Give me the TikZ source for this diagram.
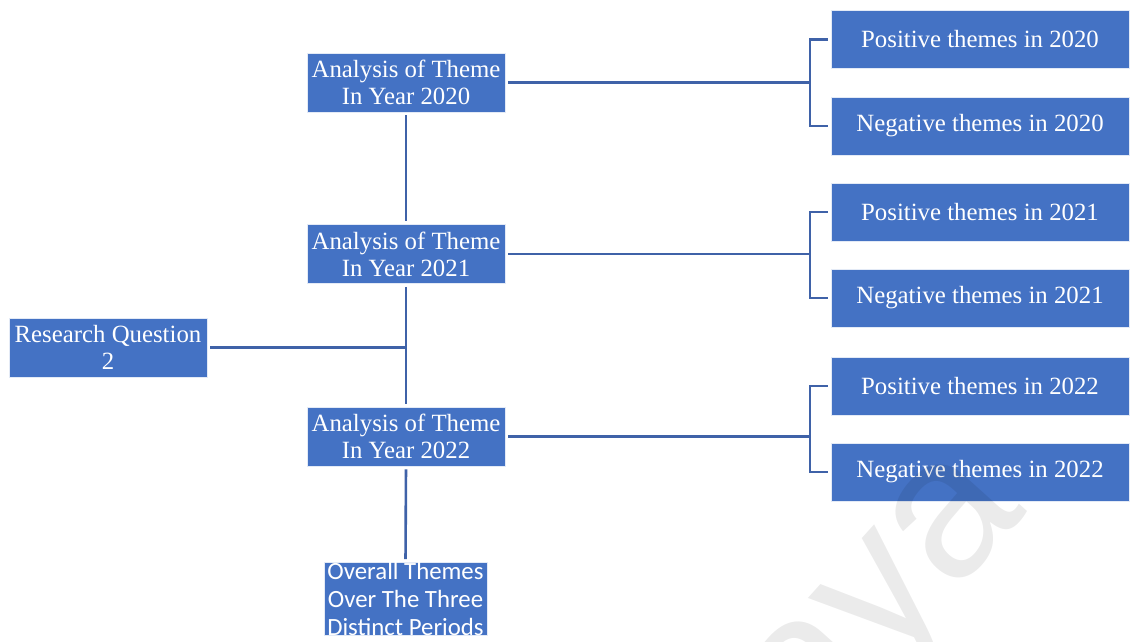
\documentclass[tikz,border=0pt]{standalone}
\usepackage{fontspec}
\setmainfont{Liberation Serif}
\newfontfamily\calibrifont{Carlito}
\newfontfamily\wmfont{Liberation Sans}
\definecolor{boxblue}{HTML}{4472C4}
\definecolor{linkblue}{HTML}{3F62A8}
\begin{document}
\begin{tikzpicture}[x=1pt,y=-1pt,
  box/.style={fill=boxblue, draw=white!85!boxblue, line width=0.8pt, text=white,
    inner sep=0pt, align=center, font=\fontsize{24.8}{27}\selectfont},
  leftbox/.style={box, minimum width=198, minimum height=59},
  rightbox/.style={box, minimum width=298, minimum height=58},
  conn/.style={draw=linkblue, line width=2.6pt, shorten <=3pt, shorten >=3pt}]
\clip (0,0) rectangle (1130,641);
\fill[white] (0,0) rectangle (1130,641);

% left column
\node[leftbox] (a20) at (406,82.5) {Analysis of Theme\\In Year 2020};
\node[leftbox] (a21) at (406,254) {Analysis of Theme\\In Year 2021};
\node[leftbox] (a22) at (406,436.5) {Analysis of Theme\\In Year 2022};
\node[leftbox] (rq) at (108,347.5) {Research Question\\2};
\node[box, anchor=north, minimum width=163, font=\calibrifont\fontsize{24.8}{28}\selectfont]
  (ov) at (405.5,562) {Overall Themes\\Over The Three\\Distinct Periods};

% right column
\node[rightbox] (p20) at (980,39.5) {Positive themes in 2020};
\node[rightbox] (n20) at (980,126) {Negative themes in 2020};
\node[rightbox] (p21) at (980,212) {Positive themes in 2021};
\node[rightbox] (n21) at (980,298) {Negative themes in 2021};
\node[rightbox] (p22) at (980,386) {Positive themes in 2022};
\node[rightbox] (n22) at (980,472) {Negative themes in 2022};

% bracket points
\coordinate (k20) at (810,82.5);
\coordinate (k21) at (810,254);
\coordinate (k22) at (810,436.5);
\coordinate (t) at (406,347.5);

% trunk
\draw[conn] (a20.south) -- (a21.north);
\draw[conn] (a21.south) -- (a22.north);
\draw[conn] (a22.south) -- (ov.north);
\draw[conn, shorten >=0pt] (rq.east) -- (t);

% branches
\draw[conn, shorten >=0pt] (a20.east) -- (k20);
\draw[conn] (p20.west) -| (k20) |- (n20.west);
\draw[conn, shorten >=0pt] (a21.east) -- (k21);
\draw[conn] (p21.west) -| (k21) |- (n21.west);
\draw[conn, shorten >=0pt] (a22.east) -- (k22);
\draw[conn] (p22.west) -| (k22) |- (n22.west);

% watermark
\node[text=black, opacity=0.08, rotate=48, font=\wmfont\fontsize{200}{200}\selectfont]
  (wm) at (895,610) {aya};
\end{tikzpicture}
\end{document}
